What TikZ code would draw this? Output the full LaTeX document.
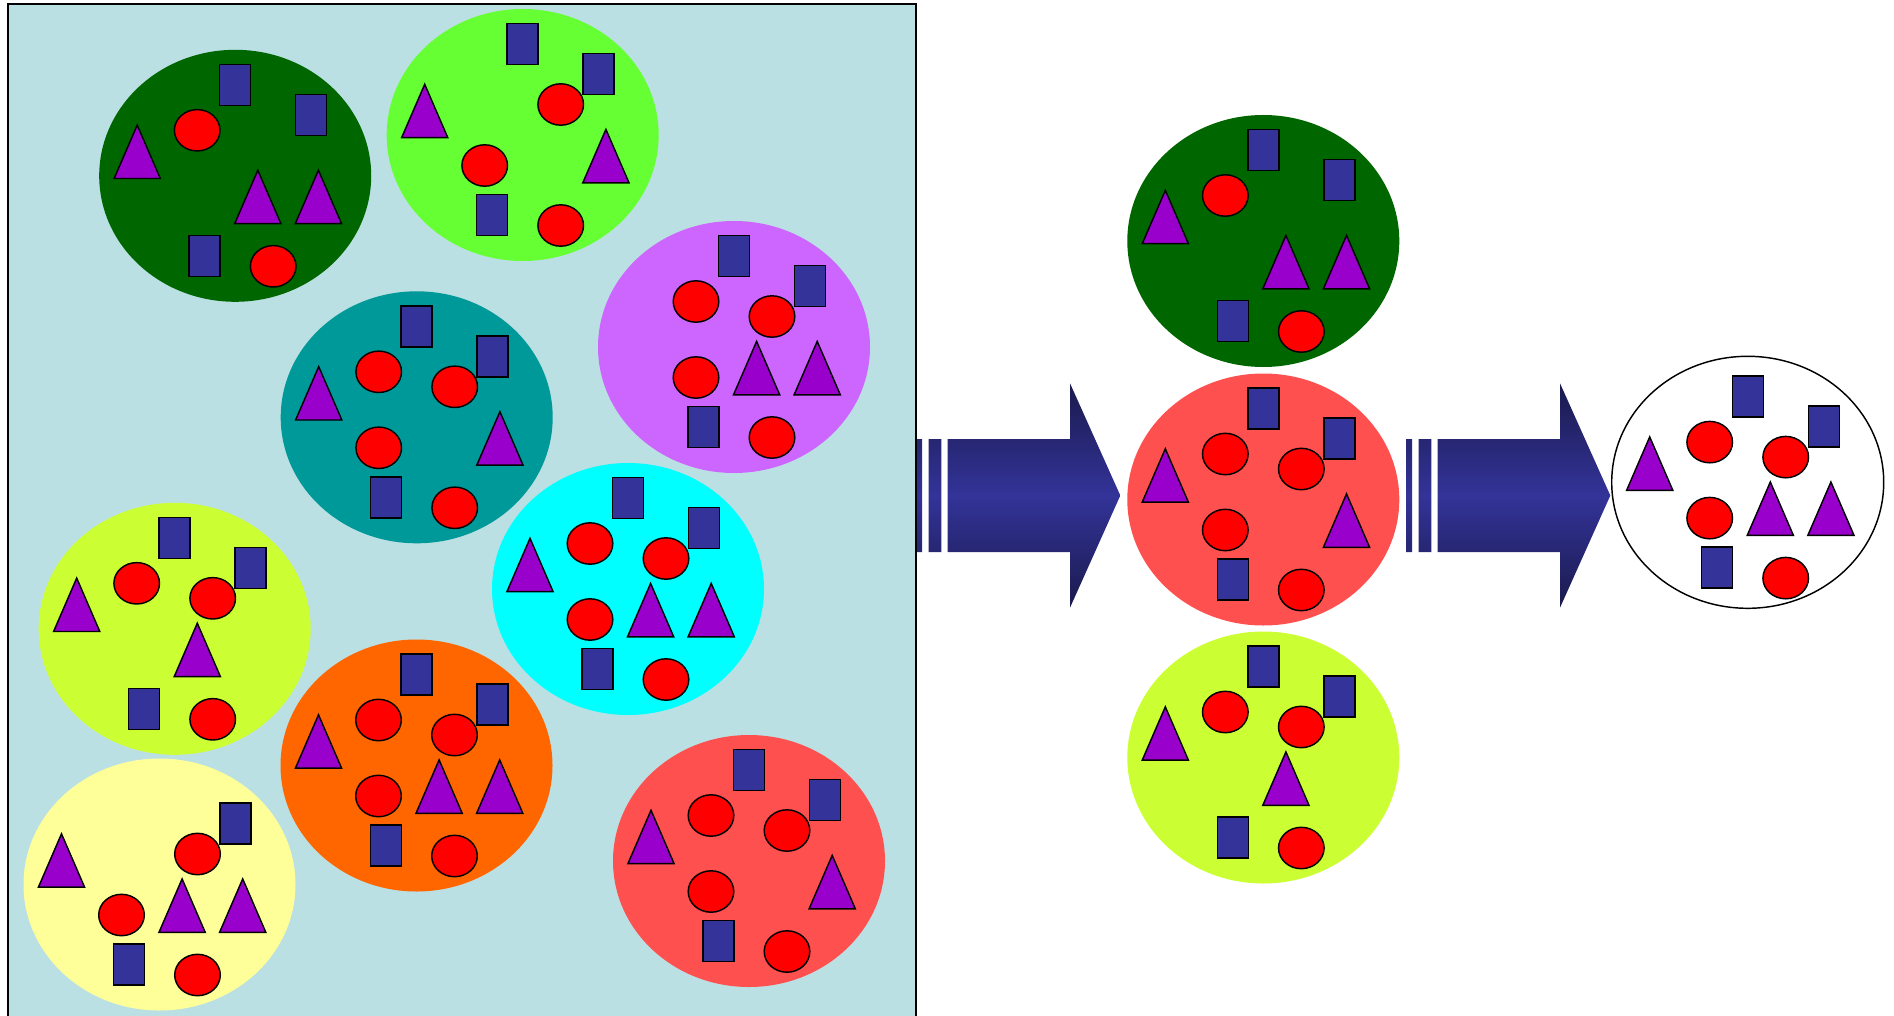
\documentclass[tikz,border=0pt]{standalone}
\usetikzlibrary{shapes.geometric}
\definecolor{panelblue}{HTML}{BBE0E3}
\definecolor{darkgreen}{HTML}{006600}
\definecolor{lightgreen}{HTML}{66FF33}
\definecolor{lilac}{HTML}{CC66FF}
\definecolor{tealc}{HTML}{009999}
\definecolor{cyanc}{HTML}{00FFFF}
\definecolor{limec}{HTML}{CCFF33}
\definecolor{orangec}{HTML}{FF6600}
\definecolor{paleyellow}{HTML}{FFFF99}
\definecolor{salmonc}{HTML}{FF5050}
\definecolor{rectblue}{HTML}{333399}
\definecolor{dotred}{HTML}{FF0000}
\definecolor{trivio}{HTML}{9900CC}
\definecolor{arrowmid}{HTML}{333399}
\definecolor{arrowdark}{HTML}{1A1A4D}

% the ten slots a group can fill, relative to the group origin
\newcommand\shaperT{\pic at (0,-91) {rectitem};}
\newcommand\shaperUR{\pic at (76,-61) {rectitem};}
\newcommand\shaperB{\pic at (-30.5,80) {rectitem};}
\newcommand\shapecUL{\pic at (-38,-45.5) {dotitem};}
\newcommand\shapecR{\pic at (38,-30.5) {dotitem};}
\newcommand\shapecLL{\pic at (-38,30.5) {dotitem};}
\newcommand\shapecB{\pic at (38,90.5) {dotitem};}
\newcommand\shapetL{\pic at (-98,-50.7) {triitem};}
\newcommand\shapetM{\pic at (22.6,-5.6) {triitem};}
\newcommand\shapetR{\pic at (83.2,-5.6) {triitem};}

% #1 = origin, #2 = dots, #3 = triangles, #4 = rectangles
\newcommand\itemgroup[4]{%
  \begin{scope}[shift={#1}]
    \foreach \k in {#2} {\csname shape\k\endcsname}
    \foreach \k in {#3} {\csname shape\k\endcsname}
    \foreach \k in {#4} {\csname shape\k\endcsname}
  \end{scope}}

\begin{document}
\begin{tikzpicture}[x=1pt,y=-1pt,
  itemline/.style={draw=black,line width=1.45pt,line join=miter},
  blob/.style={x radius=136,y radius=126},
  rectitem/.pic={\path[itemline,fill=rectblue] (-15.5,-20.5) rectangle (15.5,20.5);},
  dotitem/.pic={\path[itemline,fill=dotred] (0,0) ellipse [x radius=22.8,y radius=20.7];},
  triitem/.pic={\path[itemline,fill=trivio] (0,0) -- (23.1,53.4) -- (-23.1,53.4) -- cycle;},
  flowarrow/.style={top color=arrowdark,bottom color=arrowdark,middle color=arrowmid}]

\useasboundingbox (0,0) rectangle (1894,1016);

% broad arrows
\foreach \dx/\nm in {0/arrowA,490/arrowB} {
  \shade[flowarrow]
    (916+\dx,439) rectangle (922+\dx,552)
    (928.7+\dx,439) rectangle (941.3+\dx,552)
    (947.7+\dx,439) -- (1070+\dx,439) -- (1070+\dx,383.3) -- (1120.3+\dx,495.5)
      -- (1070+\dx,607.7) -- (1070+\dx,552) -- (947.7+\dx,552) -- cycle;
}

% panel holding all the groups
\fill[panelblue] (8,4) rectangle (915.7,1030);
\draw[line width=1.6pt] (8,1030) -- (8,4) -- (915.7,4) -- (915.7,1030);

% groups inside the panel
\fill[darkgreen]  (235.2,175.8) ellipse [blob];
\itemgroup{(235.2,175.8)}{cUL,cB}{tL,tM,tR}{rT,rUR,rB}

\fill[lightgreen] (522.7,135) ellipse [blob];
\itemgroup{(522.7,135)}{cR,cLL,cB}{tL,tR}{rT,rUR,rB}

\fill[lilac]      (734,347) ellipse [blob];
\itemgroup{(734,347)}{cUL,cR,cLL,cB}{tM,tR}{rT,rUR,rB}

\fill[tealc]      (416.7,417.3) ellipse [blob];
\itemgroup{(416.7,417.3)}{cUL,cR,cLL,cB}{tL,tR}{rT,rUR,rB}

\fill[cyanc]      (628,589) ellipse [blob];
\itemgroup{(628,589)}{cUL,cR,cLL,cB}{tL,tM,tR}{rT,rUR,rB}

\fill[limec]      (174.7,628.8) ellipse [blob];
\itemgroup{(174.7,628.8)}{cUL,cR,cB}{tL,tM}{rT,rUR,rB}

\fill[orangec]    (416.5,765.5) ellipse [blob];
\itemgroup{(416.5,765.5)}{cUL,cR,cLL,cB}{tL,tM,tR}{rT,rUR,rB}

\fill[paleyellow] (159.5,884.5) ellipse [blob];
\itemgroup{(159.5,884.5)}{cR,cLL,cB}{tL,tM,tR}{rUR,rB}

\fill[salmonc]    (749,861) ellipse [blob];
\itemgroup{(749,861)}{cUL,cR,cLL,cB}{tL,tR}{rT,rUR,rB}

% selected groups
\fill[darkgreen]  (1263.3,241) ellipse [blob];
\itemgroup{(1263.3,241)}{cUL,cB}{tL,tM,tR}{rT,rUR,rB}

\fill[salmonc]    (1263.3,499.5) ellipse [blob];
\itemgroup{(1263.3,499.5)}{cUL,cR,cLL,cB}{tL,tR}{rT,rUR,rB}

\fill[limec]      (1263.3,757.5) ellipse [blob];
\itemgroup{(1263.3,757.5)}{cUL,cR,cB}{tL,tM}{rT,rUR,rB}

% merged result
\draw[fill=white,line width=1.45pt] (1747.7,482.3) ellipse [blob];
\itemgroup{(1747.7,487.6)}{cUL,cR,cLL,cB}{tL,tM,tR}{rT,rUR,rB}

\end{tikzpicture}
\end{document}
